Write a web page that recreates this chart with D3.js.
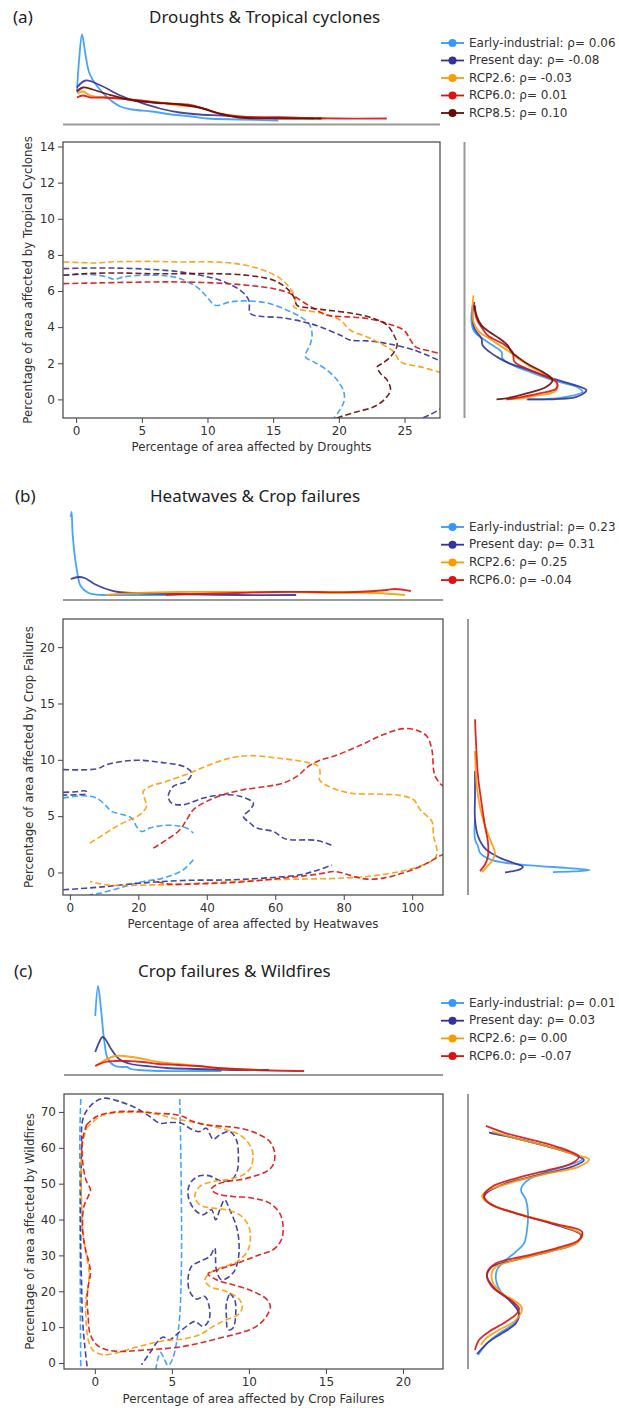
<!DOCTYPE html>
<html>
<head>
<meta charset="utf-8">
<script src="https://cdn.jsdelivr.net/npm/d3@7"></script>
<style>
  body { margin: 0; background: #fff; }
  svg { display: block; }
</style>
</head>
<body>
<svg id="chart" width="619" height="1408"></svg>
<script>
// ---- Series ----
const seriesNames = ["Early-industrial", "Present day", "RCP2.6", "RCP6.0", "RCP8.5"];
const seriesColors = ["#3399ff", "#333399", "#ff9900", "#dd1111", "#660a0a"];

// Spearman correlation per scenario, shown in the legends
const rhoA = [0.06, -0.08, -0.03, 0.01, 0.10];
const rhoB = [0.23, 0.31, 0.25, -0.04];
const rhoC = [0.01, 0.03, 0.00, -0.07];

// ---- Axis domains and ticks ----
const aXDomain = [-1.0, 27.7], aYDomain = [-1.03, 14.25];
const bXDomain = [-2.0, 109.0], bYDomain = [-2.0, 22.5];
const cXDomain = [-2.0, 22.6], cYDomain = [-1.67, 75.0];
const aXTicks = [0, 5, 10, 15, 20, 25], aYTicks = [0, 2, 4, 6, 8, 10, 12, 14];
const bXTicks = [0, 20, 40, 60, 80, 100], bYTicks = [0, 5, 10, 15, 20];
const cXTicks = [0, 5, 10, 15, 20], cYTicks = [0, 10, 20, 30, 40, 50, 60, 70];

// ---- (a) Droughts & Tropical cyclones ----
// marginal densities of drought area: [drought %, density]
const aTopEarly = [[0.06,0.32],[0.24,0.66],[0.45,0.89],[0.72,0.68],[1.02,0.5],[1.56,0.38],[2.47,0.25],[3.37,0.17],[4.27,0.14],[5.77,0.12],[7.27,0.09],[8.78,0.07],[9.98,0.05],[12.38,0.04],[15.39,0.03]];
const aTopPresent = [[0.06,0.36],[0.72,0.43],[1.87,0.38],[3.37,0.28],[4.87,0.21],[6.37,0.15],[7.88,0.11],[9.38,0.09],[11.18,0.08],[12.98,0.06],[15.39,0.06],[18.09,0.05]];
const aTop26 = [[0.06,0.3],[0.51,0.32],[1.11,0.28],[2.17,0.26],[3.37,0.25],[4.87,0.23],[6.37,0.21],[7.88,0.18],[9.38,0.16],[10.58,0.11],[11.78,0.08],[13.88,0.06],[16.89,0.05],[18.99,0.05]];
const aTop60 = [[0.06,0.26],[0.51,0.28],[1.11,0.26],[2.17,0.26],[3.37,0.25],[4.87,0.23],[6.97,0.2],[8.48,0.19],[9.68,0.15],[10.88,0.1],[12.38,0.07],[15.39,0.06],[19.89,0.05],[23.65,0.05]];
const aTop85 = [[0.06,0.32],[0.51,0.36],[1.26,0.34],[2.47,0.29],[3.97,0.24],[5.77,0.21],[7.88,0.19],[9.38,0.16],[10.88,0.1],[12.38,0.06],[15.39,0.05],[18.69,0.05]];
// marginal densities of cyclone area: [cyclone %, density]
const aRightEarly = [[5.21,0.07],[4.29,0.06],[3.73,0.09],[3.37,0.17],[3.0,0.27],[2.63,0.36],[2.27,0.37],[1.9,0.47],[1.53,0.64],[1.07,0.87],[0.7,1.11],[0.42,1.17],[0.14,1.01],[0.02,0.81],[0.0,0.61]];
const aRightPresent = [[5.39,0.09],[4.66,0.07],[3.92,0.09],[3.37,0.16],[3.0,0.17],[2.63,0.24],[2.27,0.34],[1.99,0.44],[1.62,0.64],[1.16,0.87],[0.83,1.07],[0.51,1.21],[0.14,1.11],[0.02,0.91],[0.0,0.62]];
const aRight26 = [[5.76,0.08],[5.03,0.07],[4.29,0.08],[3.73,0.14],[3.37,0.24],[3.0,0.34],[2.63,0.44],[2.08,0.57],[1.53,0.74],[1.16,0.87],[0.79,0.92],[0.42,0.89],[0.24,0.74],[0.06,0.57],[0.0,0.41]];
const aRight60 = [[5.21,0.09],[4.47,0.11],[3.92,0.17],[3.55,0.22],[3.37,0.27],[3.09,0.37],[2.63,0.47],[2.08,0.49],[1.71,0.61],[1.34,0.77],[0.97,0.91],[0.61,0.91],[0.33,0.74],[0.14,0.57],[0.0,0.41]];
const aRight85 = [[5.21,0.09],[4.66,0.11],[4.1,0.16],[3.73,0.24],[3.37,0.34],[3.0,0.42],[2.63,0.46],[2.27,0.54],[1.9,0.64],[1.53,0.77],[1.07,0.87],[0.7,0.81],[0.33,0.61],[0.06,0.41],[0.0,0.31]];
// joint density contour per scenario: list of [drought %, cyclone %] segments
const aContEarly = [[[-0.97,6.87],[0.3,6.92],[1.32,6.91],[2.34,6.78],[2.85,6.65],[3.61,6.78],[4.88,6.87],[6.15,6.87],[7.16,6.81],[7.93,6.68],[9.2,6.22],[9.96,5.67],[10.59,5.21],[11.74,5.4],[13.0,5.45],[14.53,5.34],[16.06,4.94],[17.07,4.57],[17.71,4.2],[17.96,3.65],[17.84,3.09],[17.45,2.36],[18.09,2.08],[19.1,1.62],[19.87,1.07],[20.38,0.42],[20.38,-0.13],[19.99,-0.68],[19.61,-1.05]]];
const aContPresent = [[[-0.97,7.24],[0.56,7.27],[3.1,7.27],[5.64,7.2],[7.93,7.06],[9.45,6.87],[10.98,6.59],[12.5,6.04],[13.14,5.49],[13.26,4.75],[14.02,4.6],[15.55,4.53],[17.33,4.29],[18.6,4.01],[20.12,3.55],[20.88,3.28],[22.15,3.24],[23.68,3.09],[25.71,2.73],[27.74,2.12]],
  [[26.42,-1.01],[26.98,-0.83],[27.74,-0.53]]];
const aCont26 = [[[-0.97,7.61],[0.56,7.57],[1.58,7.55],[2.59,7.61],[5.64,7.64],[7.93,7.61],[10.47,7.61],[12.5,7.48],[14.28,7.15],[15.55,6.69],[16.31,6.13],[16.69,5.58],[16.57,5.12],[17.07,4.97],[18.85,4.75],[20.12,4.38],[20.88,3.83],[22.15,3.46],[23.42,3.0],[24.19,2.63],[24.57,2.17],[24.95,1.99],[26.22,1.8],[27.74,1.49]]];
const aCont60 = [[[-0.97,6.41],[1.83,6.45],[5.64,6.5],[7.93,6.5],[10.47,6.45],[13.01,6.32],[15.04,6.13],[16.31,5.86],[17.07,5.49],[18.09,5.03],[19.11,4.66],[20.63,4.57],[22.15,4.48],[23.68,4.2],[24.95,3.83],[25.46,3.28],[25.84,2.91],[26.98,2.67],[27.74,2.54]]];
const aCont85 = [[[-0.97,6.87],[0.56,6.96],[3.1,7.0],[5.64,6.96],[7.93,6.96],[10.47,6.96],[13.01,6.87],[15.04,6.59],[16.06,6.13],[16.57,5.67],[16.82,5.21],[17.58,5.08],[19.11,4.94],[21.14,4.75],[22.66,4.48],[23.68,4.11],[24.19,3.55],[24.44,3.0],[23.93,2.36],[23.3,1.99],[22.92,1.8],[23.17,1.44],[23.68,1.07],[23.93,0.52],[23.42,-0.04],[22.66,-0.41],[21.39,-0.68],[20.12,-0.96],[19.74,-1.05]]];

// ---- (b) Heatwaves & Crop failures ----
const bTopEarly = [[0.26,0.82],[0.5,0.87],[0.85,0.63],[2.0,0.3],[3.16,0.13],[5.47,0.06],[9.5,0.04],[14.12,0.04],[27.98,0.04]];
const bTopPresent = [[0.26,0.2],[2.57,0.22],[4.3,0.21],[7.19,0.15],[10.67,0.1],[14.12,0.07],[19.88,0.06],[31.46,0.05],[48.77,0.04],[66.11,0.04]];
const bTop26 = [[10.67,0.04],[19.88,0.06],[31.46,0.07],[43.0,0.07],[54.56,0.07],[66.11,0.07],[77.66,0.06],[89.21,0.06],[97.87,0.04]];
const bTop60 = [[27.98,0.04],[37.22,0.05],[48.77,0.06],[60.32,0.07],[71.87,0.07],[83.42,0.07],[92.66,0.09],[94.97,0.1],[99.59,0.08]];
const bRightEarly = [[4.71,0.06],[2.93,0.06],[2.34,0.09],[1.75,0.11],[1.16,0.21],[0.8,0.41],[0.56,0.71],[0.41,0.97],[0.21,1.21],[0.09,1.04],[0.03,0.84]];
const bRightPresent = [[9.01,0.06],[6.78,0.06],[4.71,0.06],[3.23,0.09],[2.04,0.17],[1.3,0.31],[0.86,0.44],[0.5,0.54],[0.27,0.51],[0.09,0.42],[0.0,0.36]];
const bRight26 = [[10.79,0.06],[8.56,0.07],[6.78,0.09],[4.71,0.14],[2.93,0.21],[1.75,0.26],[1.16,0.24],[0.41,0.17],[0.03,0.13]];
const bRight60 = [[13.6,0.06],[11.53,0.07],[8.56,0.09],[6.49,0.12],[4.12,0.16],[2.64,0.19],[1.45,0.19],[0.71,0.16],[0.12,0.11]];
const bContEarly = [
  [[-1.95,6.61],[3.9,6.81],[7.8,6.61],[10.72,5.87],[12.18,5.42],[15.59,5.13],[18.03,4.83],[19.49,4.09],[20.96,3.64],[23.39,3.94],[27.29,4.18],[31.19,4.15],[34.11,3.94],[36.06,3.5]],
  [[36.06,1.13],[33.14,0.24],[27.29,-0.5],[21.44,-0.8],[17.54,-1.1],[12.67,-1.54],[8.77,-1.84],[5.85,-1.99]]];
const bContPresent = [
  [[-1.95,9.13],[7.8,9.19],[10.72,9.57],[15.59,9.87],[20.47,9.96],[26.32,9.78],[33.14,9.42],[35.58,8.83],[34.11,8.09],[30.21,7.64],[28.75,6.76],[29.73,6.16],[33.14,6.01],[38.99,6.61],[44.83,6.9],[49.71,6.76],[53.61,6.16],[52.63,5.57],[50.68,4.98],[52.63,4.39],[54.58,3.94],[59.45,3.64],[62.38,3.05],[64.33,2.9],[72.12,2.84],[76.51,2.4]],
  [[-1.95,7.11],[1.95,7.17],[4.68,7.23],[4.87,6.99],[1.95,6.9],[-1.95,6.87]],
  [[-1.95,-1.54],[8.77,-1.3],[20.47,-0.95],[33.14,-0.71],[47.76,-0.65],[59.45,-0.44],[67.25,-0.21],[72.12,0.18],[76.51,0.65]]];
const bCont26 = [[[5.85,2.61],[9.75,3.35],[13.65,4.09],[17.54,4.68],[20.47,5.13],[22.42,5.87],[21.93,6.46],[21.44,7.2],[23.39,7.64],[28.27,8.09],[35.09,8.83],[40.94,9.57],[46.78,10.16],[52.63,10.37],[60.43,10.16],[69.2,9.78],[72.61,9.42],[73.1,8.83],[72.9,8.24],[75.54,7.64],[81.87,7.05],[89.67,6.96],[96.49,6.84],[100.39,6.46],[102.34,5.57],[105.75,4.53],[106.24,3.2],[107.21,2.01],[106.73,1.27],[103.31,0.68],[96.49,0.09],[86.74,-0.36],[77.0,-0.53],[67.25,-0.59],[57.5,-0.65],[47.76,-0.8],[38.01,-0.95],[28.27,-1.1],[23.39,-1.1],[16.57,-1.16],[10.72,-1.1],[5.85,-0.8]]];
const bCont60 = [
  [[24.37,2.16],[28.27,2.9],[32.16,3.79],[34.11,4.68],[36.06,5.57],[39.96,6.31],[44.83,6.9],[50.68,7.35],[57.5,7.64],[62.38,7.94],[66.28,8.53],[69.69,9.42],[73.1,9.96],[77.0,10.31],[81.87,10.9],[86.74,11.56],[91.62,12.24],[97.47,12.77],[101.36,12.62],[104.29,12.09],[105.75,10.9],[106.24,9.13],[106.73,8.53],[108.19,7.88],[109.5,7.6]],
  [[109.5,1.5],[108.97,1.57],[105.26,0.98],[101.36,0.39],[96.49,-0.12],[91.62,-0.5],[86.74,-0.59],[82.85,-0.36],[79.92,-0.06],[77.0,0.09],[73.1,-0.12],[68.23,-0.3],[61.99,-0.5],[57.5,-0.65],[47.76,-0.89],[38.01,-1.01],[28.27,-1.01],[24.37,-0.71]]];

// ---- (c) Crop failures & Wildfires ----
const cTopEarly = [[0.03,0.58],[0.21,0.88],[0.42,0.62],[0.6,0.35],[0.85,0.15],[1.31,0.08],[1.82,0.07],[2.08,0.07],[2.34,0.05],[2.85,0.04],[4.13,0.03],[6.69,0.03],[8.22,0.03]];
const cTopPresent = [[0.03,0.22],[0.29,0.32],[0.49,0.37],[0.68,0.35],[1.06,0.25],[1.57,0.15],[2.34,0.1],[3.36,0.08],[4.64,0.06],[6.69,0.05],[9.25,0.04],[11.29,0.04]];
const cTop26 = [[0.03,0.08],[0.55,0.13],[1.31,0.18],[1.82,0.18],[2.85,0.16],[4.13,0.12],[5.41,0.1],[6.69,0.08],[7.97,0.06],[9.25,0.05],[10.78,0.04]];
const cTop60 = [[0.03,0.08],[0.68,0.12],[1.31,0.13],[2.08,0.13],[3.1,0.12],[4.13,0.1],[5.41,0.09],[6.69,0.08],[7.97,0.06],[10.53,0.04],[13.59,0.03]];
const cRightEarly = [[64.05,0.22],[62.93,0.43],[60.51,0.77],[58.28,1.03],[56.8,1.13],[54.94,0.97],[52.89,0.73],[50.57,0.57],[48.24,0.52],[45.45,0.57],[41.74,0.59],[37.09,0.58],[33.37,0.55],[31.05,0.47],[28.72,0.37],[25.93,0.28],[23.15,0.27],[19.43,0.33],[16.64,0.45],[13.85,0.5],[11.06,0.45],[8.27,0.3],[5.48,0.18],[2.23,0.09]];
const cRightPresent = [[64.23,0.2],[63.12,0.4],[60.79,0.73],[58.47,1.03],[56.61,1.15],[54.75,1.03],[52.43,0.7],[50.1,0.37],[47.31,0.17],[45.92,0.15],[43.6,0.27],[41.27,0.53],[38.48,0.87],[35.69,1.12],[33.37,1.07],[31.05,0.8],[28.72,0.47],[26.86,0.23],[24.07,0.18],[20.36,0.27],[17.57,0.4],[13.85,0.5],[11.06,0.47],[8.27,0.33],[5.95,0.2],[2.51,0.08]];
const cRight26 = [[64.51,0.23],[62.65,0.47],[60.33,0.8],[58.0,1.07],[56.8,1.2],[54.75,1.1],[52.7,0.77],[50.1,0.4],[47.78,0.17],[46.38,0.13],[44.06,0.23],[41.27,0.53],[38.48,0.9],[35.69,1.13],[33.37,1.07],[31.05,0.8],[28.72,0.47],[26.4,0.25],[23.15,0.23],[19.43,0.33],[17.1,0.47],[15.25,0.53],[11.99,0.47],[9.2,0.3],[6.88,0.17],[5.02,0.12]];
const cRight60 = [[66.1,0.17],[64.05,0.37],[61.72,0.7],[59.4,0.97],[57.54,1.1],[55.68,1.03],[53.82,0.8],[51.5,0.47],[49.17,0.23],[46.85,0.15],[44.52,0.2],[41.74,0.47],[38.95,0.83],[36.62,1.13],[34.3,1.1],[31.98,0.87],[29.65,0.53],[27.79,0.27],[25.0,0.18],[21.29,0.23],[18.5,0.37],[15.25,0.5],[13.85,0.48],[11.53,0.37],[8.74,0.2],[6.41,0.1],[3.63,0.06]];
const cContEarly = [
  [[-0.91,73.6],[-0.97,64.07],[-0.97,45.5],[-0.95,26.93],[-0.93,8.36],[-0.91,-1.67]],
  [[5.51,73.6],[5.56,64.07],[5.62,45.5],[5.62,26.93],[5.51,13.0],[5.3,5.57],[5.04,1.11],[4.76,-0.74],[4.48,1.39],[4.26,2.97],[4.11,1.39],[3.96,-1.67]]];
const cContPresent = [
  [[-0.5,-0.93],[-0.65,4.64],[-0.8,12.53],[-0.86,22.28],[-0.91,31.57],[-0.91,45.5],[-0.86,59.42],[-0.76,68.25],[-0.22,71.96],[0.54,73.82],[1.62,72.89],[2.7,71.03],[3.57,68.71],[4.22,66.85],[4.86,67.04],[5.62,66.85],[6.27,65.18],[6.81,64.53],[7.24,65.46],[7.68,62.4],[8.11,63.6],[8.76,64.53],[9.19,62.21],[9.32,57.57],[9.23,53.39],[8.86,51.07],[8.11,50.88],[7.46,52.18],[6.81,52.18],[6.27,50.6],[6.05,48.28],[6.12,45.5],[6.49,42.71],[7.03,41.32],[7.57,42.71],[7.85,39.93],[8.11,42.71],[8.43,45.5],[8.76,42.71],[9.19,38.07],[9.36,33.43],[9.3,28.78],[8.97,25.07],[8.22,23.21],[7.89,26.0],[7.78,32.03],[7.46,29.71],[6.81,28.32],[6.27,26.93],[6.05,23.21],[6.16,19.96],[6.59,17.83],[7.14,18.57],[7.42,15.78],[7.42,12.07],[7.03,10.21],[6.49,11.61],[5.95,10.21],[5.41,8.36],[4.86,6.5],[4.43,7.24],[4.0,5.57],[3.57,2.79],[3.03,-0.46]],
  [[8.76,19.5],[9.08,17.64],[9.15,13.93],[8.97,9.75],[8.65,9.29],[8.54,13.0],[8.54,16.71],[8.76,19.5]]];
const cCont26 = [[[-0.54,65.46],[0.32,68.71],[1.19,69.64],[2.92,69.92],[4.22,69.17],[5.08,68.25],[6.16,67.32],[7.24,66.39],[8.54,65.0],[9.41,63.6],[10.05,60.82],[10.27,58.03],[10.1,54.32],[9.62,52.46],[8.76,51.25],[7.68,50.6],[6.81,49.21],[6.49,46.43],[6.81,44.1],[7.68,43.18],[8.54,42.71],[9.41,41.32],[9.95,38.53],[10.1,35.28],[9.95,31.57],[9.41,28.78],[8.76,27.39],[8.11,26.46],[7.46,25.07],[7.14,23.21],[7.46,21.36],[8.54,19.96],[9.3,18.11],[9.58,15.78],[9.3,13.46],[8.54,12.07],[7.68,10.21],[6.81,7.89],[5.73,6.69],[4.65,6.31],[3.57,5.39],[2.49,4.18],[1.41,2.79],[0.54,2.32],[-0.11,3.53],[-0.43,6.5],[-0.58,13.0],[-0.58,17.64],[-0.43,21.36],[-0.37,25.53],[-0.54,29.71],[-0.76,36.21],[-0.86,45.5],[-0.89,54.78],[-0.8,61.28],[-0.54,65.46]]];
const cCont60 = [[[-0.54,66.39],[0.11,68.71],[1.19,69.92],[2.92,70.1],[4.0,69.64],[5.08,69.36],[5.73,68.71],[6.38,67.32],[7.24,66.39],[8.54,65.92],[9.41,65.46],[10.49,64.07],[11.35,61.75],[11.68,58.5],[11.57,55.25],[11.14,53.39],[10.27,52.0],[9.41,51.07],[8.54,50.6],[7.89,49.67],[7.57,48.47],[8.0,47.08],[8.97,46.43],[10.27,45.96],[11.35,44.57],[12.0,41.78],[12.22,38.07],[12.11,34.35],[11.57,31.57],[10.7,30.18],[9.84,28.78],[8.97,27.39],[8.11,26.18],[7.35,24.88],[7.89,23.21],[8.97,21.82],[10.27,19.96],[11.14,17.83],[11.39,15.78],[11.14,13.0],[10.49,10.21],[9.41,8.36],[8.11,6.96],[6.81,5.57],[5.51,4.46],[4.22,3.9],[2.92,3.53],[2.05,3.25],[1.41,3.25],[0.76,3.71],[0.11,5.11],[-0.32,8.36],[-0.43,13.0],[-0.5,17.64],[-0.43,21.36],[-0.28,25.07],[-0.37,27.86],[-0.65,32.5],[-0.8,38.07],[-0.71,43.64],[-0.43,46.43],[-0.28,48.28],[-0.58,51.07],[-0.8,56.64],[-0.8,62.21],[-0.54,66.39]]];

// ---- Panel definitions (layout in pixels) ----
const panels = [
  {
    tag: "(a)", title: "Droughts & Tropical cyclones",
    xLabel: "Percentage of area affected by Droughts",
    yLabel: "Percentage of area affected by Tropical Cyclones",
    xDomain: aXDomain, yDomain: aYDomain, xTicks: aXTicks, yTicks: aYTicks, rho: rhoA,
    contours: [aContEarly, aContPresent, aCont26, aCont60, aCont85],
    top: [aTopEarly, aTopPresent, aTop26, aTop60, aTop85],
    right: [aRightEarly, aRightPresent, aRight26, aRight60, aRight85],
    box: { l: 63, r: 440, t: 142, b: 418 },
    tagPos: [13, 18], titlePos: [149, 18], legendY: 43, legendStep: 17.5,
    topBase: 124.5, rightX: 464.5, yLabelX: 28, xLabelY: 447
  },
  {
    tag: "(b)", title: "Heatwaves & Crop failures",
    xLabel: "Percentage of area affected by Heatwaves",
    yLabel: "Percentage of area affected by Crop Failures",
    xDomain: bXDomain, yDomain: bYDomain, xTicks: bXTicks, yTicks: bYTicks, rho: rhoB,
    contours: [bContEarly, bContPresent, bCont26, bCont60],
    top: [bTopEarly, bTopPresent, bTop26, bTop60],
    right: [bRightEarly, bRightPresent, bRight26, bRight60],
    box: { l: 63, r: 443, t: 619, b: 895 },
    tagPos: [15, 497], titlePos: [150, 497], legendY: 527, legendStep: 17.7,
    topBase: 600, rightX: 468, yLabelX: 29, xLabelY: 924
  },
  {
    tag: "(c)", title: "Crop failures & Wildfires",
    xLabel: "Percentage of area affected by Crop Failures",
    yLabel: "Percentage of area affected by Wildfires",
    xDomain: cXDomain, yDomain: cYDomain, xTicks: cXTicks, yTicks: cYTicks, rho: rhoC,
    contours: [cContEarly, cContPresent, cCont26, cCont60],
    top: [cTopEarly, cTopPresent, cTop26, cTop60],
    right: [cRightEarly, cRightPresent, cRight26, cRight60],
    box: { l: 64, r: 443, t: 1094, b: 1369 },
    tagPos: [14, 972], titlePos: [138, 972], legendY: 1003, legendStep: 17.7,
    topBase: 1075, rightX: 468, yLabelX: 30, xLabelY: 1399
  }
];

const svg = d3.select("#chart");
const smooth = d3.curveCatmullRom.alpha(0.5);
const axisFont = "DejaVu Sans, Liberation Sans, sans-serif";
const titleFont = "Noto Sans, Open Sans, sans-serif";

panels.forEach((p, pi) => {
  const { l, r, t, b } = p.box;
  const x = d3.scaleLinear().domain(p.xDomain).range([l, r]);
  const y = d3.scaleLinear().domain(p.yDomain).range([b, t]);
  const densTop = d3.scaleLinear().domain([0, 1]).range([p.topBase - 1, p.topBase - 101]);
  const densRight = d3.scaleLinear().domain([0, 1]).range([p.rightX + 1, p.rightX + 101]);
  const g = svg.append("g");

  // panel tag and title
  g.append("text").attr("x", p.tagPos[0]).attr("y", p.tagPos[1])
    .attr("dominant-baseline", "middle").attr("font-family", titleFont)
    .attr("font-size", 17).attr("fill", "#222").text(p.tag);
  g.append("text").attr("x", p.titlePos[0]).attr("y", p.titlePos[1])
    .attr("dominant-baseline", "middle").attr("font-family", titleFont)
    .attr("font-size", 17).attr("fill", "#222").text(p.title);

  // top marginal: density of the x variable
  g.append("line").attr("x1", l).attr("x2", r)
    .attr("y1", p.topBase).attr("y2", p.topBase)
    .attr("stroke", "#9a9a9a").attr("stroke-width", 2);
  const topLine = d3.line().x(d => x(d[0])).y(d => densTop(d[1])).curve(smooth);
  p.top.forEach((pts, i) => {
    g.append("path").attr("d", topLine(pts)).attr("fill", "none")
      .attr("stroke", seriesColors[i]).attr("stroke-width", 1.8)
      .attr("stroke-opacity", 0.9).attr("stroke-linejoin", "round");
  });

  // right marginal: density of the y variable
  g.append("line").attr("x1", p.rightX).attr("x2", p.rightX)
    .attr("y1", t).attr("y2", b)
    .attr("stroke", "#9a9a9a").attr("stroke-width", 2);
  const rightLine = d3.line().x(d => densRight(d[1])).y(d => y(d[0])).curve(smooth);
  p.right.forEach((pts, i) => {
    g.append("path").attr("d", rightLine(pts)).attr("fill", "none")
      .attr("stroke", seriesColors[i]).attr("stroke-width", 1.8)
      .attr("stroke-opacity", 0.9).attr("stroke-linejoin", "round");
  });

  // joint plot: dashed density contours clipped to the axes box
  const clipId = "clip" + pi;
  svg.append("clipPath").attr("id", clipId).append("rect")
    .attr("x", l).attr("y", t).attr("width", r - l).attr("height", b - t);
  const contLine = d3.line().x(d => x(d[0])).y(d => y(d[1])).curve(smooth);
  const cg = g.append("g").attr("clip-path", `url(#${clipId})`);
  p.contours.forEach((segs, i) => {
    segs.forEach(seg => {
      cg.append("path").attr("d", contLine(seg)).attr("fill", "none")
        .attr("stroke", seriesColors[i]).attr("stroke-width", 1.6)
        .attr("stroke-opacity", 0.9).attr("stroke-dasharray", "6,3");
    });
  });

  // axes
  const xAxis = d3.axisBottom(x).tickValues(p.xTicks).tickSize(5).tickPadding(3);
  const yAxis = d3.axisLeft(y).tickValues(p.yTicks).tickSize(5).tickPadding(3);
  const gx = g.append("g").attr("transform", `translate(0,${b})`).call(xAxis);
  const gy = g.append("g").attr("transform", `translate(${l},0)`).call(yAxis);
  [gx, gy].forEach(ax => {
    ax.select(".domain").remove();
    ax.selectAll(".tick line").attr("stroke", "#444").attr("stroke-width", 1);
    ax.selectAll(".tick text").attr("fill", "#333")
      .attr("font-family", axisFont).attr("font-size", 12);
  });
  g.append("rect").attr("x", l).attr("y", t).attr("width", r - l).attr("height", b - t)
    .attr("fill", "none").attr("stroke", "#444").attr("stroke-width", 1.2);

  // axis labels
  g.append("text").attr("x", (l + r) / 2).attr("y", p.xLabelY)
    .attr("text-anchor", "middle").attr("dominant-baseline", "middle")
    .attr("font-family", axisFont).attr("font-size", 11.8).attr("fill", "#333")
    .text(p.xLabel);
  g.append("text")
    .attr("transform", `translate(${p.yLabelX},${(t + b) / 2}) rotate(-90)`)
    .attr("text-anchor", "middle").attr("dominant-baseline", "middle")
    .attr("font-family", axisFont).attr("font-size", 11.8).attr("fill", "#333")
    .text(p.yLabel);

  // legend
  p.rho.forEach((rho, i) => {
    const ly = p.legendY + i * p.legendStep;
    g.append("line").attr("x1", 441).attr("x2", 464).attr("y1", ly).attr("y2", ly)
      .attr("stroke", seriesColors[i]).attr("stroke-width", 1.8);
    g.append("circle").attr("cx", 452.5).attr("cy", ly).attr("r", 4)
      .attr("fill", seriesColors[i]);
    g.append("text").attr("x", 469).attr("y", ly).attr("dominant-baseline", "middle")
      .attr("font-family", axisFont).attr("font-size", 12).attr("fill", "#333")
      .text(`${seriesNames[i]}: ρ= ${rho.toFixed(2)}`);
  });
});
</script>
</body>
</html>
